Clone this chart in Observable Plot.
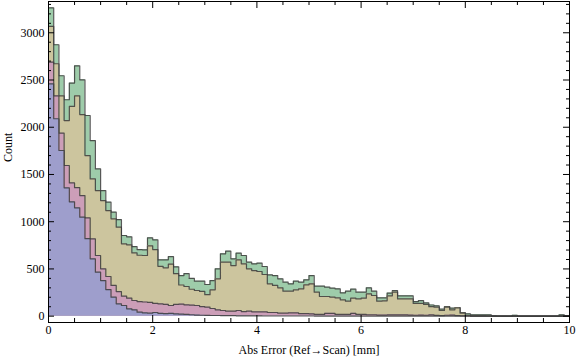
<!DOCTYPE html>
<html>
<head>
<meta charset="utf-8">
<script src="https://cdn.jsdelivr.net/npm/d3@7"></script>
<script src="https://cdn.jsdelivr.net/npm/@observablehq/plot@0.6"></script>
<style>
  html, body { margin: 0; padding: 0; background: #fff; }
</style>
</head>
<body>
<div id="chart"></div>
<script>
// Histogram bins: 0.1 mm wide, starting at 0
const binStart = 0;
const binWidth = 0.1;

const seriesGreen = [
  3264, 2873, 2545, 2291, 2467, 2650, 2502, 2124, 1859, 1559,
  1330, 1207, 1101, 1023, 854, 840, 737, 705, 702, 829,
  808, 596, 596, 630, 522, 430, 450, 400, 370, 370,
  335, 377, 501, 660, 688, 607, 667, 642, 572, 554,
  561, 526, 437, 430, 395, 360, 342, 370, 360, 385,
  430, 318, 318, 307, 296, 289, 247, 265, 286, 254,
  254, 300, 265, 194, 194, 245, 270, 215, 215, 215,
  155, 164, 140, 118, 109, 74, 102, 85, 92, 39,
  25, 14, 14, 14, 14, 3, 2, 1, 0, 10,
  0, 0, 0, 0, 0, 0, 0, 0, 14, 5
];

const seriesYellow = [
  3067, 2672, 2333, 2071, 2220, 2333, 2134, 1700, 1453, 1330,
  1224, 1118, 1030, 942, 766, 755, 670, 645, 642, 745,
  705, 528, 512, 550, 450, 330, 314, 285, 272, 262,
  228, 279, 395, 572, 572, 536, 596, 554, 501, 483,
  473, 441, 342, 325, 300, 265, 265, 279, 289, 332,
  342, 254, 208, 208, 201, 194, 173, 159, 191, 183,
  191, 236, 219, 159, 162, 215, 255, 183, 183, 183,
  135, 135, 124, 100, 95, 60, 95, 67, 88, 32,
  7, 4, 3, 3, 2, 0, 0, 0, 0, 0,
  0, 0, 0, 0, 0, 0, 0, 0, 0, 0
];

const seriesPink = [
  2690, 2333, 1937, 1595, 1410, 1360, 1277, 1040, 818, 642,
  501, 420, 325, 260, 212, 191, 166, 155, 150, 145,
  135, 131, 125, 113, 124, 128, 120, 117, 113, 102,
  95, 81, 67, 60, 53, 53, 60, 49, 53, 46,
  46, 46, 39, 39, 32, 32, 35, 35, 28, 28,
  25, 18, 18, 30, 30, 18, 18, 18, 30, 18,
  18, 15, 15, 12, 12, 14, 14, 14, 14, 12,
  10, 12, 10, 14, 8, 6, 10, 12, 6, 4,
  2, 0, 0, 0, 0, 0, 0, 0, 0, 0,
  0, 0, 0, 0, 0, 0, 0, 0, 0, 0
];

const seriesBlue = [
  2460, 2090, 1754, 1359, 1210, 1147, 1048, 820, 607, 466,
  377, 282, 201, 131, 113, 78, 67, 42, 35, 32,
  39, 30, 28, 30, 25, 21, 18, 15, 12, 10,
  8, 7, 7, 6, 5, 5, 4, 4, 3, 3,
  3, 2, 2, 2, 2, 2, 2, 2, 2, 2,
  2, 1, 1, 1, 1, 1, 1, 1, 1, 1,
  0, 0, 0, 0, 0, 0, 0, 0, 0, 0,
  0, 0, 0, 0, 0, 0, 0, 0, 0, 0,
  0, 0, 0, 0, 0, 0, 0, 0, 0, 0,
  0, 0, 0, 0, 0, 0, 0, 0, 0, 0
];

// Tick labels / positions
const xMajorTicks = [0, 2, 4, 6, 8, 10];
const xMinorTicks = [0.5, 1, 1.5, 2.5, 3, 3.5, 4.5, 5, 5.5, 6.5, 7, 7.5, 8.5, 9, 9.5];
const yMajorTicks = [0, 500, 1000, 1500, 2000, 2500, 3000];
const yMinorTicks = [100, 200, 300, 400, 600, 700, 800, 900, 1100, 1200, 1300, 1400,
  1600, 1700, 1800, 1900, 2100, 2200, 2300, 2400, 2600, 2700, 2800, 2900, 3100, 3200, 3300];

const xLabel = "Abs Error (Ref\u2192Scan) [mm]";
const yLabel = "Count";

function steps(values) {
  const pts = values.map((v, i) => ({x: binStart + i * binWidth, y: v}));
  pts.push({x: binStart + values.length * binWidth, y: values[values.length - 1]});
  return pts;
}

const W = 576, H = 362;
const mL = 48, mR = 7, mT = 1, mB = 40;
const fw = W - mL - mR, fh = H - mT - mB;
const edge = "#3b3b3b";

const layers = [
  {values: seriesGreen, fill: "#9eccaa"},
  {values: seriesYellow, fill: "#ccc59e"},
  {values: seriesPink, fill: "#cc9eb8"},
  {values: seriesBlue, fill: "#9e9ecc"}
];

const histMarks = layers.flatMap(({values, fill}) => {
  const d = steps(values);
  return [
    Plot.areaY(d, {x: "x", y: "y", curve: "step-after", fill}),
    Plot.lineY(d, {x: "x", y: "y", curve: "step-after", stroke: edge, strokeOpacity: 0.85, strokeWidth: 1.2})
  ];
});

const chart = Plot.plot({
  width: W, height: H,
  marginLeft: mL, marginRight: mR, marginTop: mT, marginBottom: mB,
  x: {domain: [0, 10], axis: null},
  y: {domain: [-67, 3331], axis: null},
  style: {fontFamily: "'Liberation Serif', 'Times New Roman', serif", fontSize: "12px", background: "#fff", overflow: "visible", color: "#000"},
  marks: [
    ...histMarks,
    // inward frame ticks
    Plot.ruleX(xMinorTicks, {x: d => d, insetTop: fh - 4, stroke: "#000"}),
    Plot.ruleX(xMajorTicks, {x: d => d, insetTop: fh - 7, stroke: "#000"}),
    Plot.ruleX(xMinorTicks, {x: d => d, insetBottom: fh - 4, stroke: "#000"}),
    Plot.ruleX(xMajorTicks, {x: d => d, insetBottom: fh - 7, stroke: "#000"}),
    Plot.ruleY(yMinorTicks, {y: d => d, insetRight: fw - 3, stroke: "#000"}),
    Plot.ruleY(yMajorTicks, {y: d => d, insetRight: fw - 6, stroke: "#000"}),
    Plot.ruleY(yMinorTicks, {y: d => d, insetLeft: fw - 3, stroke: "#000"}),
    Plot.ruleY(yMajorTicks, {y: d => d, insetLeft: fw - 6, stroke: "#000"}),
    Plot.frame({stroke: "#000", strokeWidth: 1}),
    // tick labels
    Plot.text(xMajorTicks, {x: d => d, text: d => String(d), frameAnchor: "bottom", dy: 11, fontSize: 12, fill: "#000"}),
    Plot.text(yMajorTicks, {y: d => d, text: d => String(d), frameAnchor: "left", dx: -4, textAnchor: "end", fontSize: 12, fill: "#000"}),
    // axis titles
    Plot.text([xLabel], {text: d => d, frameAnchor: "bottom", dy: 31, fontSize: 12, fill: "#000"}),
    Plot.text([yLabel], {text: d => d, frameAnchor: "left", dx: -40, rotate: -90, fontSize: 12, fill: "#000"})
  ]
});

document.getElementById("chart").appendChild(chart);
</script>
</body>
</html>
